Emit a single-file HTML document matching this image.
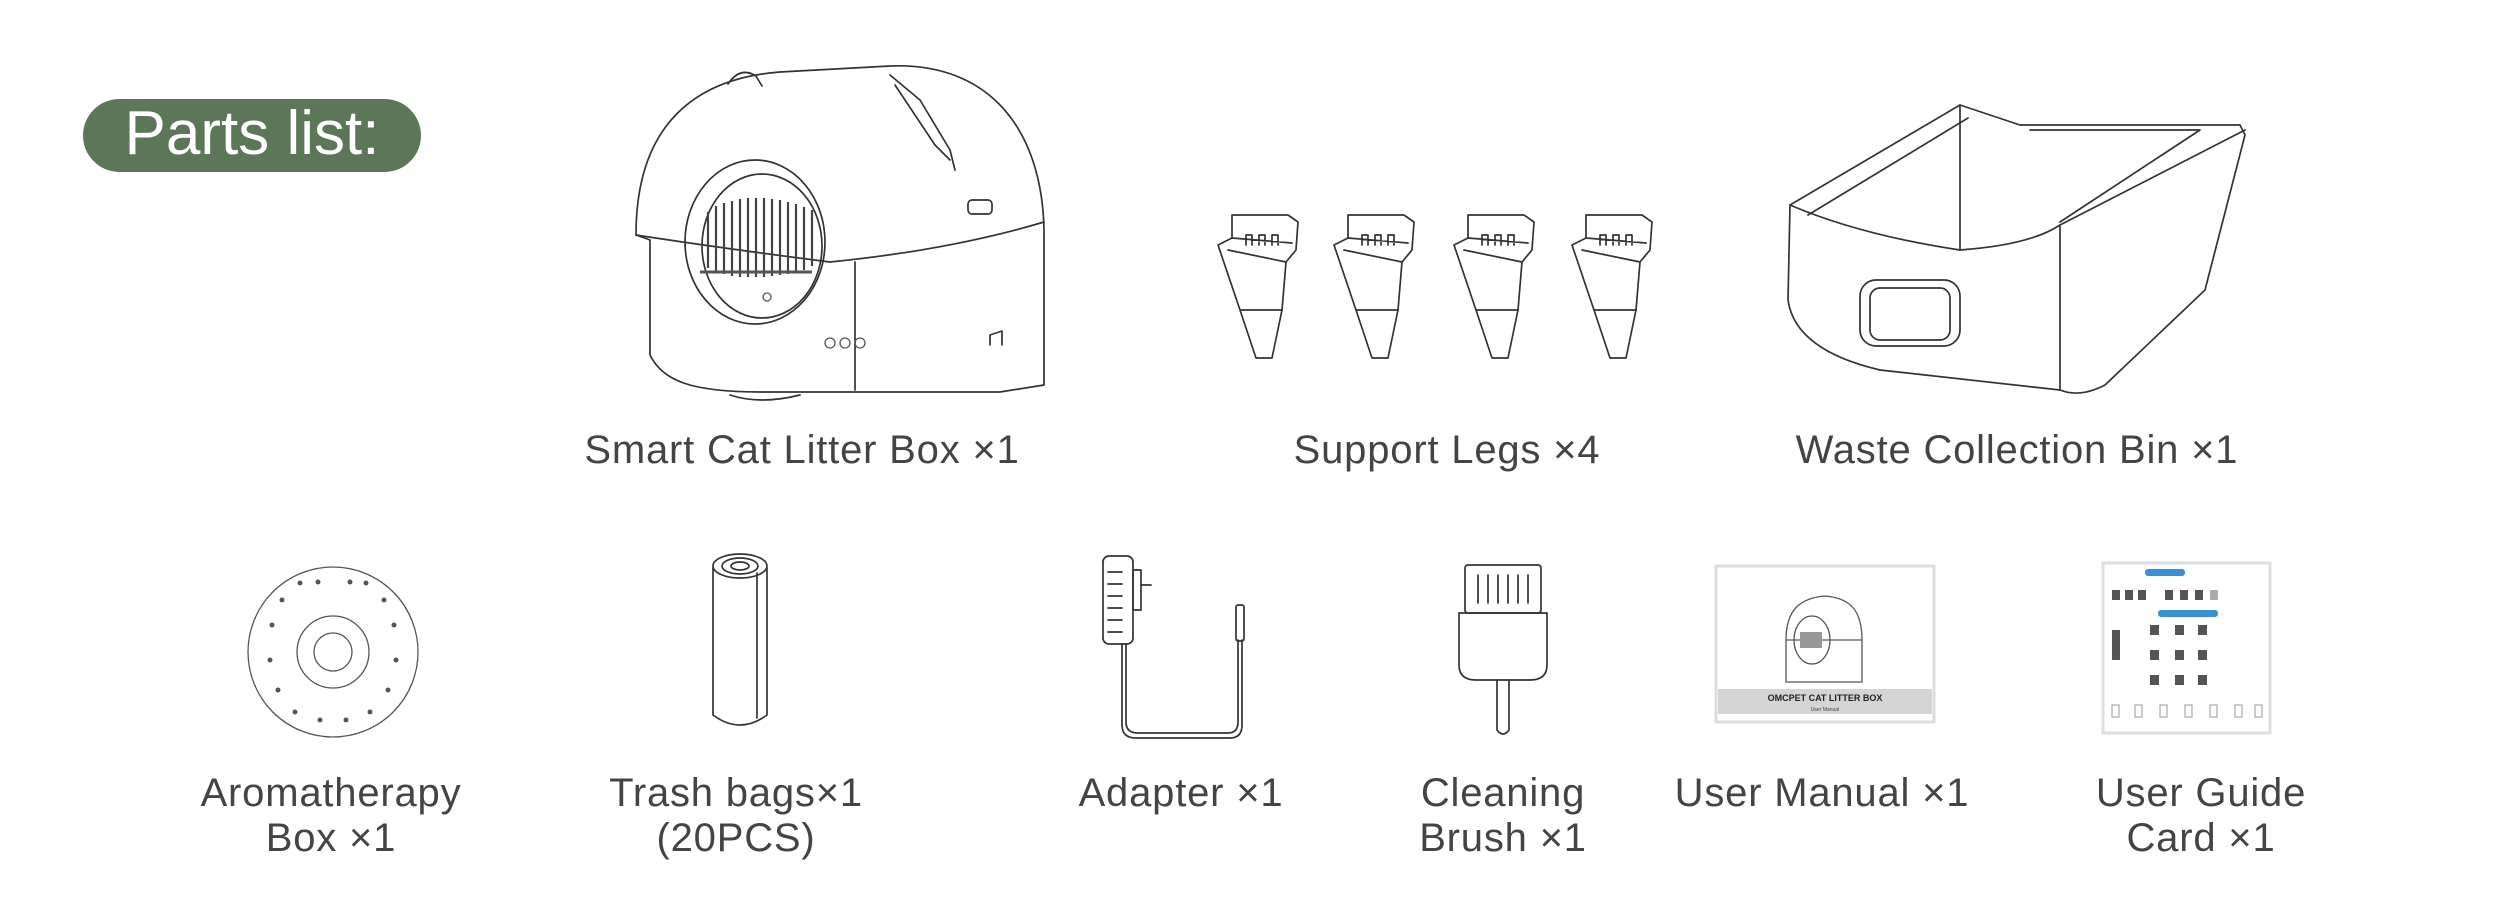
<!DOCTYPE html>
<html><head><meta charset="utf-8"><style>
html,body{margin:0;padding:0;background:#fff;width:2500px;height:900px;overflow:hidden}
svg{display:block}
.l{font-family:"Liberation Sans","Noto Sans CJK SC",sans-serif;font-size:40px;fill:#444;text-anchor:middle;letter-spacing:0.8px}
.s{fill:none;stroke:#333;stroke-width:1.7;stroke-linejoin:round;stroke-linecap:round}
.t{fill:none;stroke:#555;stroke-width:1.3}
</style></head><body>
<svg width="2500" height="900" viewBox="0 0 2500 900">
<rect x="83" y="99" width="338" height="73" rx="36.5" fill="#5c7658"/>
<text x="252" y="154" font-family="Liberation Sans, sans-serif" font-size="62" fill="#fff" text-anchor="middle">Parts list:</text>

<!-- Litter box -->
<g class="s">
<path d="M728 84 q12 -18 28 -8 l6 10"/>
<path d="M636 235 C636 120 700 78 780 72 L890 66 C990 62 1042 130 1044 230 L1044 385 L1000 392 L760 392 C690 392 662 380 650 355 L650 240"/>
<path d="M636 235 Q720 248 830 262 Q950 250 1044 222"/>
<path d="M636 235 L650 240"/>
<ellipse cx="755" cy="242" rx="70" ry="82"/>
<ellipse cx="762" cy="246" rx="60" ry="72"/>
<path d="M890 75 L920 100 L950 150 L955 170"/>
<path d="M895 85 L935 145 L950 160"/>
<path d="M855 390 L855 262"/>
<path d="M730 395 Q760 405 800 395"/>
<path d="M990 345 l0 -10 l12 -4 l0 14"/>
<rect x="968" y="200" width="24" height="14" rx="4"/>
</g>
<g stroke="#444" stroke-width="2.2">
<path d="M708 212 L708 268 M716 206 L716 272 M724 203 L724 274 M732 201 L732 276 M740 199 L740 277 M748 198 L748 277 M756 198 L756 277 M764 198 L764 277 M772 199 L772 276 M780 200 L780 275 M788 202 L788 274 M796 204 L796 272 M804 207 L804 270 M812 210 L812 266"/>
</g>
<path d="M700 272 L812 272" stroke="#555" stroke-width="3"/>
<g class="t"><circle cx="830" cy="343" r="5"/><circle cx="845" cy="343" r="5"/><circle cx="860" cy="343" r="5"/><circle cx="767" cy="297" r="4"/></g>
<text class="l" x="802" y="463">Smart Cat Litter Box ×1</text>

<!-- Support legs -->
<g class="s" stroke-width="1.4">
<g id="leg">
<path d="M1218 245 L1232 238 L1232 215 L1288 215 L1298 222 L1296 250 L1286 262 L1282 310 L1272 358 L1256 358 L1240 310 Z"/>
<path d="M1232 238 L1292 243 M1228 250 L1286 262 M1240 310 L1282 310 M1246 245 l0 -10 l6 0 l0 10 M1259 245 l0 -10 l6 0 l0 10 M1272 245 l0 -10 l6 0 l0 10"/>
</g>
<use href="#leg" x="116"/>
<use href="#leg" x="236"/>
<use href="#leg" x="354"/>
</g>
<text class="l" x="1447" y="463">Support Legs ×4</text>

<!-- Waste bin -->
<g class="s" stroke-width="1.6">
<path d="M1790 205 L1960 105 L2020 125 L2240 125 L2245 135 L2205 290 L2105 385 Q2080 398 2060 390 L1880 370 Q1795 350 1788 300 Z"/>
<path d="M1790 205 Q1860 235 1960 250 Q2030 245 2060 225 L2245 130"/>
<path d="M2060 225 L2060 390"/>
<path d="M1960 105 L1960 250 M2030 130 L2200 130 L2060 222"/>
<path d="M1808 215 L1968 118"/>
<rect x="1860" y="280" width="100" height="66" rx="16"/>
<rect x="1870" y="288" width="80" height="52" rx="10"/>
</g>
<text class="l" x="2017" y="463">Waste Collection Bin ×1</text>

<!-- Aromatherapy -->
<g class="t" stroke="#444" stroke-width="1.6">
<circle cx="333" cy="652" r="85"/>
<circle cx="333" cy="652" r="36"/>
<circle cx="333" cy="652" r="19"/>
</g>
<g fill="#555">
<circle cx="300" cy="583" r="2.5"/><circle cx="366" cy="583" r="2.5"/><circle cx="282" cy="600" r="2.5"/><circle cx="384" cy="600" r="2.5"/>
<circle cx="272" cy="625" r="2.5"/><circle cx="394" cy="625" r="2.5"/><circle cx="270" cy="660" r="2.5"/><circle cx="396" cy="660" r="2.5"/>
<circle cx="278" cy="690" r="2.5"/><circle cx="388" cy="690" r="2.5"/><circle cx="295" cy="712" r="2.5"/><circle cx="370" cy="712" r="2.5"/>
<circle cx="320" cy="720" r="2.5"/><circle cx="346" cy="720" r="2.5"/><circle cx="318" cy="582" r="2.5"/><circle cx="350" cy="582" r="2.5"/>
</g>
<text class="l" x="331" y="806">Aromatherapy</text>
<text class="l" x="331" y="851">Box ×1</text>

<!-- Trash bags -->
<g class="s" stroke-width="1.7">
<path d="M713 568 L713 715 Q740 735 767 715 L767 568"/>
<ellipse cx="740" cy="566" rx="27" ry="12"/>
<ellipse cx="740" cy="566" rx="18" ry="8"/>
<ellipse cx="740" cy="566" rx="9" ry="4"/>
<path d="M757 573 L757 718"/>
</g>
<text class="l" x="736" y="806">Trash bags×1</text>
<text class="l" x="736" y="851">(20PCS)</text>

<!-- Adapter -->
<g class="s" stroke-width="1.7">
<rect x="1103" y="556" width="30" height="88" rx="6"/>
<rect x="1133" y="570" width="8" height="40"/>
<path d="M1141 585 l10 0"/>
<path d="M1108 572 l14 0 M1108 584 l14 0 M1108 596 l14 0 M1108 608 l14 0 M1108 620 l14 0 M1108 632 l14 0"/>
<path d="M1122 644 L1122 725 Q1122 738 1136 738 L1230 738 Q1242 738 1242 725 L1242 640"/>
<path d="M1126 644 L1126 722 Q1126 733 1138 733 L1228 733 Q1238 733 1238 722 L1238 640"/>
<rect x="1236" y="605" width="8" height="36" rx="2"/>
</g>
<text class="l" x="1181" y="806">Adapter ×1</text>

<!-- Brush -->
<g class="s" stroke-width="1.7">
<rect x="1465" y="565" width="76" height="48" rx="3"/>
<path d="M1478 575 l0 28 M1488 575 l0 28 M1498 575 l0 28 M1508 575 l0 28 M1518 575 l0 28 M1528 575 l0 28"/>
<path d="M1459 613 L1547 613 L1547 665 Q1547 680 1530 680 L1476 680 Q1459 680 1459 665 Z"/>
<path d="M1497 680 L1497 730 Q1503 738 1509 730 L1509 680"/>
</g>
<text class="l" x="1503" y="806">Cleaning</text>
<text class="l" x="1503" y="851">Brush ×1</text>

<!-- User manual -->
<rect x="1716" y="566" width="218" height="156" fill="#fff" stroke="#ddd" stroke-width="3"/>
<rect x="1718" y="689" width="214" height="25" fill="#d4d4d4"/>
<text x="1825" y="701" font-family="Liberation Sans, sans-serif" font-size="9" font-weight="bold" fill="#222" text-anchor="middle">OMCPET  CAT LITTER BOX</text>
<text x="1825" y="711" font-family="Liberation Sans, sans-serif" font-size="5" fill="#444" text-anchor="middle">User Manual</text>
<g class="t" stroke="#999" stroke-width="1.2">
<path d="M1786 640 C1786 610 1800 598 1825 596 C1850 598 1862 610 1862 640 L1862 682 L1786 682 Z"/>
<ellipse cx="1812" cy="640" rx="18" ry="24"/>
<path d="M1786 640 L1862 640"/>
</g>
<rect x="1800" y="632" width="22" height="16" fill="#999"/>

<!-- User guide card -->
<rect x="2103" y="563" width="167" height="170" fill="#fff" stroke="#ddd" stroke-width="3"/>
<rect x="2145" y="569" width="40" height="7" rx="3" fill="#3a8fd6"/>
<rect x="2158" y="610" width="60" height="7" rx="3" fill="#3a8fd6"/>
<g fill="#555">
<rect x="2112" y="590" width="8" height="10"/><rect x="2125" y="590" width="8" height="10"/><rect x="2138" y="590" width="8" height="10"/>
<rect x="2165" y="590" width="8" height="10"/><rect x="2180" y="590" width="8" height="10"/><rect x="2195" y="590" width="8" height="10"/><rect x="2210" y="590" width="8" height="10" fill="#aaa"/>
<rect x="2112" y="630" width="8" height="30"/><rect x="2150" y="625" width="9" height="10"/><rect x="2175" y="625" width="9" height="10"/><rect x="2198" y="625" width="9" height="10"/>
<rect x="2150" y="650" width="9" height="10"/><rect x="2175" y="650" width="9" height="10"/><rect x="2198" y="650" width="9" height="10"/>
<rect x="2150" y="675" width="9" height="10"/><rect x="2175" y="675" width="9" height="10"/><rect x="2198" y="675" width="9" height="10"/>
</g>
<g stroke="#999" stroke-width="1" fill="none">
<rect x="2112" y="705" width="7" height="12"/><rect x="2135" y="705" width="7" height="12"/><rect x="2160" y="705" width="7" height="12"/><rect x="2185" y="705" width="7" height="12"/><rect x="2210" y="705" width="7" height="12"/><rect x="2235" y="705" width="7" height="12"/><rect x="2255" y="705" width="7" height="12"/>
</g>
<text class="l" x="2201" y="806">User Guide</text>
<text class="l" x="2201" y="851">Card ×1</text>

<text class="l" x="1822" y="806">User Manual ×1</text>
</svg>
</body></html>
